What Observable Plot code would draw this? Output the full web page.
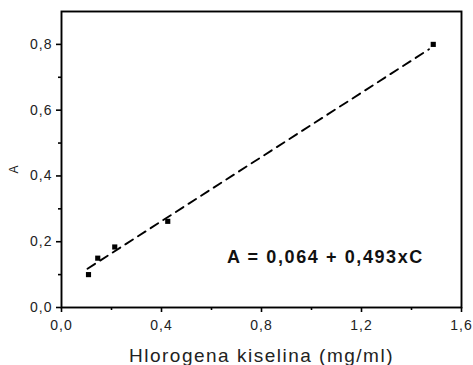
<!DOCTYPE html>
<html><head><meta charset="utf-8">
<script src="https://cdn.jsdelivr.net/npm/d3@7"></script>
<script src="https://cdn.jsdelivr.net/npm/@observablehq/plot@0.6"></script>
<style>body{margin:0;background:#fff}</style>
</head><body><div id="chart"></div>
<script>
const concentration = [0.108, 0.145, 0.213, 0.425, 1.487];
const absorbance = [0.100, 0.150, 0.184, 0.262, 0.800];
const fitX = [0.104, 1.47];
const fitY = [0.118, 0.785];
const xMajorTicks = [0, 0.4, 0.8, 1.2, 1.6];
const xMinorTicks = [0.2, 0.6, 1.0, 1.4];
const yMajorTicks = [0, 0.2, 0.4, 0.6, 0.8];
const yMinorTicks = [0.1, 0.3, 0.5, 0.7];
const xTitle = "Hlorogena kiselina (mg/ml)";
const yTitle = "A";
const equation = "A = 0,064 + 0,493xC";

const fmt = d => d.toFixed(1).replace(".", ",");
const points = concentration.map((c, i) => ({c, a: absorbance[i]}));
const fit = fitX.map((c, i) => ({c, a: fitY[i]}));

const chart = Plot.plot({
  width: 473, height: 365,
  marginLeft: 61, marginRight: 12, marginTop: 11, marginBottom: 58,
  x: {domain: [0, 1.6]},
  y: {domain: [0, 0.9]},
  style: {fontFamily: "'Liberation Sans', Arial, sans-serif", background: "white", color: "#222"},
  marks: [
    Plot.axisX(xMinorTicks, {tickSize: 3, tickFormat: () => "", label: null, stroke: "black", strokeWidth: 1.6}),
    Plot.axisX(xMajorTicks, {tickSize: 5, tickPadding: 8, tickFormat: fmt, label: null, fontSize: 14, stroke: "black", strokeWidth: 1.6, fill: "#222"}),
    Plot.axisY(yMinorTicks, {tickSize: 3, tickFormat: () => "", label: null, stroke: "black", strokeWidth: 1.6}),
    Plot.axisY(yMajorTicks, {tickSize: 5, tickPadding: 4, tickFormat: fmt, label: null, fontSize: 14, stroke: "black", strokeWidth: 1.6, fill: "#222"}),
    Plot.frame({stroke: "black", strokeWidth: 1.9}),
    Plot.line(fit, {x: "c", y: "a", stroke: "black", strokeWidth: 1.9, strokeDasharray: "9,6"}),
    Plot.dot(points, {x: "c", y: "a", symbol: "square", r: 2.9, fill: "black", stroke: null}),
    Plot.text([equation], {x: 1.056, y: 0.152, text: d => d, fontSize: 18, fontWeight: "bold", fill: "#111", textAnchor: "middle", lineAnchor: "middle", className: "eq"}),
    Plot.text([xTitle], {frameAnchor: "bottom", dy: 54, text: d => d, fontSize: 19, fill: "#222", textAnchor: "middle", lineAnchor: "bottom", className: "xt"}),
    Plot.text([yTitle], {frameAnchor: "left", dx: -47, dy: 10, rotate: -90, text: d => d, fontSize: 12, fill: "#222", textAnchor: "middle", lineAnchor: "middle"})
  ]
});
document.getElementById("chart").append(chart);
const s = d3.select(chart);
s.selectAll("g[aria-label='x-axis tick label'] text, g[aria-label='y-axis tick label'] text").style("letter-spacing", "1px");
s.selectAll(".eq text").style("letter-spacing", "1.6px");
s.selectAll(".xt text").style("letter-spacing", "1.5px");
</script>
</body></html>
